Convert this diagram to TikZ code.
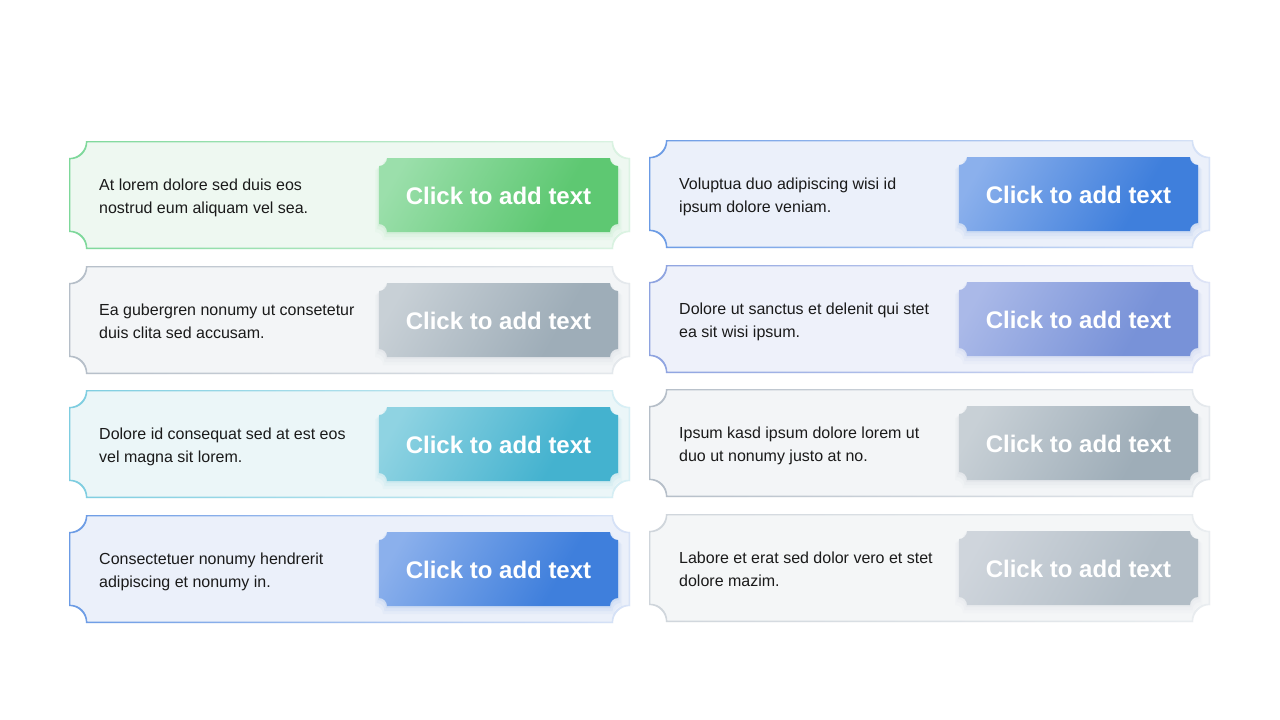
\documentclass[tikz,border=0pt]{standalone}
\usepackage{fontspec}
\setmainfont{Liberation Sans}
% palettes: B border strong, L border light, F fill, BL button light, BD button dark
\definecolor{gB}{HTML}{7DD89A}\definecolor{gL}{HTML}{DCF3E3}\definecolor{gF}{HTML}{EEF8F1}\definecolor{gBL}{HTML}{9BDFAB}\definecolor{gBD}{HTML}{5EC872}
\definecolor{sB}{HTML}{B5BEC8}\definecolor{sL}{HTML}{E5E9ED}\definecolor{sF}{HTML}{F3F5F7}\definecolor{sBL}{HTML}{C8D0D6}\definecolor{sBD}{HTML}{9EADB8}
\definecolor{cB}{HTML}{7DCDE0}\definecolor{cL}{HTML}{D8EFF5}\definecolor{cF}{HTML}{EBF6F8}\definecolor{cBL}{HTML}{8FD3E2}\definecolor{cBD}{HTML}{44B2CF}
\definecolor{bB}{HTML}{6B9BE5}\definecolor{bL}{HTML}{D8E3F7}\definecolor{bF}{HTML}{EBF0FA}\definecolor{bBL}{HTML}{8BB0EC}\definecolor{bBD}{HTML}{3F7FDC}
\definecolor{pB}{HTML}{8EA3E0}\definecolor{pL}{HTML}{DEE4F6}\definecolor{pF}{HTML}{EEF1FA}\definecolor{pBL}{HTML}{AAB9E8}\definecolor{pBD}{HTML}{7892D8}
\definecolor{wB}{HTML}{CFD5DB}\definecolor{wL}{HTML}{E9EDF0}\definecolor{wF}{HTML}{F4F6F7}\definecolor{wBL}{HTML}{CFD5DC}\definecolor{wBD}{HTML}{B2BDC6}
\definecolor{textc}{HTML}{1A1A1A}
\colorlet{btnL}{gBL}\colorlet{btnD}{gBD}
\pgfdeclarehorizontalshading[btnL,btnD]{btn}{100bp}{color(0bp)=(btnL); color(22bp)=(btnL); color(66bp)=(btnD); color(100bp)=(btnD)}
% notched rectangle: x1,y1,x2,y2,r  (y grows downward)
\newcommand\ticket[5]{({#1+#5},#2) -- ({#3-#5},#2) arc[start angle=180,end angle=90,radius=#5] -- (#3,{#4-#5}) arc[start angle=270,end angle=180,radius=#5] -- ({#1+#5},#4) arc[start angle=0,end angle=-90,radius=#5] -- (#1,{#2+#5}) arc[start angle=90,end angle=0,radius=#5] -- cycle}
\tikzset{
  bodytext/.style={font=\fontsize{16}{23}\selectfont, text=textc, align=left, inner sep=0pt, anchor=west},
  btntext/.style={font=\fontsize{24}{28}\selectfont\bfseries, text=white, inner sep=0pt},
}
\newcommand\card[6]{%
  \colorlet{btnL}{#3BL}\colorlet{btnD}{#3BD}%
  \fill[#3F] \ticket{#1}{#2}{#1+561}{#2+108}{17};
  \shade[even odd rule,left color=#3B,right color=#3L] \ticket{#1}{#2}{#1+561}{#2+108}{17} \ticket{#1+1.3}{#2+1.3}{#1+559.7}{#2+106.7}{17};
  \foreach \k/\o in {8/0.04,5/0.06,2/0.08}{\fill[#3BD,opacity=\o] \ticket{#1+310-\k/2}{#2+17+\k/2}{#1+549+\k/2}{#2+91+\k}{8};}
  \shade[shading=btn,shading angle=-30] \ticket{#1+310}{#2+17}{#1+549}{#2+91}{8};
  \node[btntext] (#6b) at ({#1+429.5},{#2+54.5}) {Click to add text};
  \node[bodytext] (#6t) at ({#1+30},{#2+56}) {\strut#4\\\strut#5};
}
\begin{document}
\begin{tikzpicture}[x=1pt,y=-1pt]
\fill[white] (0,0) rectangle (1280,720);
\useasboundingbox (0,0) rectangle (1280,720);
\card{69}{141}{g}{At lorem dolore sed duis eos}{nostrud eum aliquam vel sea.}{l1}
\card{69}{266}{s}{Ea gubergren nonumy ut consetetur}{duis clita sed accusam.}{l2}
\card{69}{390}{c}{Dolore id consequat sed at est eos}{vel magna sit lorem.}{l3}
\card{69}{515}{b}{Consectetuer nonumy hendrerit}{adipiscing et nonumy in.}{l4}
\card{649}{140}{b}{Voluptua duo adipiscing wisi id}{ipsum dolore veniam.}{r1}
\card{649}{265}{p}{Dolore ut sanctus et delenit qui stet}{ea sit wisi ipsum.}{r2}
\card{649}{389}{s}{Ipsum kasd ipsum dolore lorem ut}{duo ut nonumy justo at no.}{r3}
\card{649}{514}{w}{Labore et erat sed dolor vero et stet}{dolore mazim.}{r4}
\end{tikzpicture}
\end{document}
